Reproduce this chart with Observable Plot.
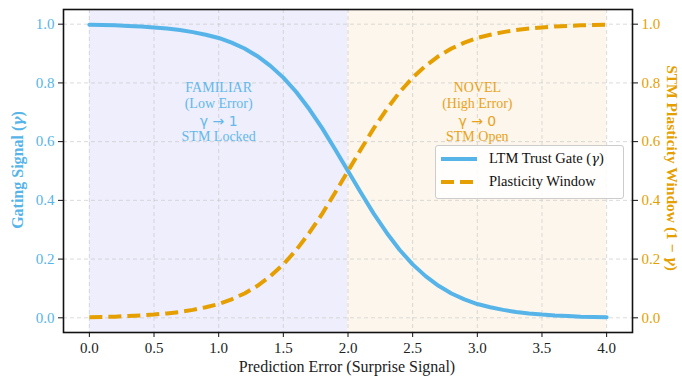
<!DOCTYPE html>
<html><head><meta charset="utf-8">
<script src="https://cdn.jsdelivr.net/npm/d3@7"></script>
<script src="https://cdn.jsdelivr.net/npm/@observablehq/plot@0.6"></script>
<style>
body{margin:0;background:#fff;overflow:hidden;}
#wrap{position:relative;width:682px;height:381px;overflow:hidden;font-family:"Liberation Serif","Times New Roman",serif;}
#title{position:absolute;top:-17px;left:0;width:682px;text-align:center;font-weight:bold;font-size:15px;color:#000;white-space:nowrap;}
#legend{position:absolute;left:435px;top:145px;width:187px;height:52px;background:rgba(255,255,255,0.85);border:1px solid #ccc;border-radius:3px;font-size:14.5px;color:#111;white-space:nowrap;}
#legend .row{position:absolute;left:3px;display:flex;align-items:center;}
#legend svg{margin-right:10px;}
</style></head>
<body>
<div id="wrap">
<div id="title">Surprise-Gating: Learning Regime Routing by Error Signal (Complementarity)</div>
<div id="chart"></div>
<div id="legend">
 <div class="row" style="top:4px"><svg width="40" height="10"><line x1="2" y1="5" x2="38" y2="5" stroke="#56B4E9" stroke-width="4"/></svg><span>LTM Trust Gate (<i style="font-family:'DejaVu Serif',serif;font-size:13px">γ</i>)</span></div>
 <div class="row" style="top:27px"><svg width="40" height="10"><line x1="2" y1="5" x2="38" y2="5" stroke="#E69F00" stroke-width="4" stroke-dasharray="13,6"/></svg><span>Plasticity Window</span></div>
</div>
</div>
<script>
const errorX = [0,0.1,0.2,0.3,0.4,0.5,0.6,0.7,0.8,0.9,1.0,1.1,1.2,1.3,1.4,1.5,1.6,1.7,1.8,1.9,2.0,2.1,2.2,2.3,2.4,2.5,2.6,2.7,2.8,2.9,3.0,3.1,3.2,3.3,3.4,3.5,3.6,3.7,3.8,3.9,4.0];
const gateGamma = [0.998,0.997,0.996,0.994,0.992,0.989,0.985,0.980,0.973,0.964,0.953,0.937,0.917,0.891,0.858,0.818,0.769,0.711,0.646,0.574,0.500,0.426,0.354,0.289,0.231,0.182,0.142,0.109,0.083,0.063,0.047,0.036,0.027,0.020,0.015,0.011,0.008,0.006,0.004,0.003,0.002];
const plasticity = [0.002,0.003,0.004,0.006,0.008,0.011,0.015,0.020,0.027,0.036,0.047,0.063,0.083,0.109,0.142,0.182,0.231,0.289,0.354,0.426,0.500,0.574,0.646,0.711,0.769,0.818,0.858,0.891,0.917,0.937,0.953,0.964,0.973,0.980,0.985,0.989,0.992,0.994,0.996,0.997,0.998];
const xTicks = [0,0.5,1,1.5,2,2.5,3,3.5,4];
const yTicks = [0,0.2,0.4,0.6,0.8,1.0];
const regions = [{x1:0,x2:2,fill:"#eeeefc"},{x1:2,x2:4,fill:"#fdf6ec"}];
const famLines = ["FAMILIAR","(Low Error)","γ → 1","STM Locked"];
const novLines = ["NOVEL","(High Error)","γ → 0","STM Open"];
const annY = [0.786,0.731,0.670,0.616];

const gateData = errorX.map((x,i)=>({x, y:gateGamma[i]}));
const plastData = errorX.map((x,i)=>({x, y:plasticity[i]}));
const ann = [];
famLines.forEach((t,i)=>ann.push({x:1,y:annY[i],t,c:"#63B9EA",m:i===2}));
novLines.forEach((t,i)=>ann.push({x:3,y:annY[i],t,c:"#E8A31A",m:i===2}));

const BLUE="#56B4E9", ORANGE="#E69F00";
const chart = Plot.plot({
  width:682, height:381,
  marginLeft:63, marginRight:50, marginTop:9, marginBottom:49,
  style:{fontFamily:"'Liberation Serif','Times New Roman',serif", fontSize:"13px", background:"transparent"},
  x:{domain:[-0.2,4.2]},
  y:{domain:[-0.05,1.05]},
  marks:[
    Plot.rect(regions,{x1:"x1",x2:"x2",fill:"fill"}),
    Plot.gridX(xTicks,{stroke:"#c8c8c8",strokeOpacity:0.65,strokeDasharray:"4,3"}),
    Plot.gridY(yTicks,{stroke:"#c8c8c8",strokeOpacity:0.65,strokeDasharray:"4,3"}),
    Plot.line(gateData,{x:"x",y:"y",stroke:BLUE,strokeWidth:4}),
    Plot.line(plastData,{x:"x",y:"y",stroke:ORANGE,strokeWidth:4,strokeDasharray:"13,6",strokeLinecap:"butt"}),
    Plot.text(ann.filter(d=>!d.m),{x:"x",y:"y",text:"t",fill:"c",fontSize:14}),
    Plot.text(ann.filter(d=>d.m),{x:"x",y:"y",text:"t",fill:"c",fontSize:14,fontFamily:"'DejaVu Sans',sans-serif"}),
    Plot.axisX(xTicks,{tickFormat:d3.format(".1f"),tickSize:5,fontSize:15,color:"#222",label:null,tickPadding:5}),
    Plot.axisY(yTicks,{anchor:"left",tickFormat:d3.format(".1f"),tickSize:5,fontSize:15,color:BLUE,label:null,tickPadding:4}),
    Plot.axisY(yTicks,{anchor:"right",tickFormat:d3.format(".1f"),tickSize:5,fontSize:15,color:ORANGE,label:null,tickPadding:4}),
    Plot.frame({stroke:"#111",strokeWidth:1.6})
  ]
});
document.getElementById("chart").appendChild(chart);
const svg = d3.select(chart);
svg.selectAll("[aria-label='x-axis tick'] path, [aria-label='y-axis tick'] path").attr("stroke","#111");
svg.append("text").attr("x",347).attr("y",372).attr("text-anchor","middle").attr("font-size",16).attr("fill","#222").text("Prediction Error (Surprise Signal)");
svg.append("text").attr("transform","translate(23,170) rotate(-90)").attr("text-anchor","middle").attr("font-size",16).attr("font-weight","bold").attr("fill",BLUE)
  .html("Gating Signal (<tspan font-family=\"'DejaVu Serif',serif\" font-style='italic' font-size='14'>γ</tspan>)");
svg.append("text").attr("transform","translate(667,168) rotate(90)").attr("text-anchor","middle").attr("font-size",15.5).attr("font-weight","bold").attr("fill",ORANGE)
  .html("STM Plasticity Window (1 − <tspan font-family=\"'DejaVu Serif',serif\" font-style='italic' font-size='14'>γ</tspan>)");
</script>
</body></html>
